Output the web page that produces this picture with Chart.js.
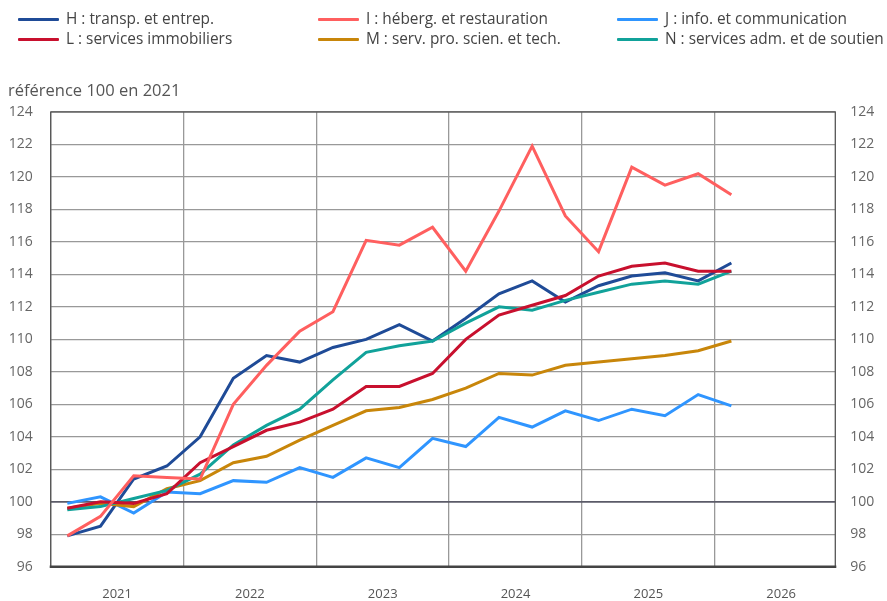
<!DOCTYPE html>
<html>
<head>
<meta charset="utf-8">
<script src="https://cdn.jsdelivr.net/npm/chart.js@4.4.1/dist/chart.umd.min.js"></script>
<style>
  html, body { margin: 0; padding: 0; background: #fff; }
  #wrap { position: relative; width: 887px; height: 601px; font-family: "Open Sans", "Noto Sans", sans-serif; }
  #c { position: absolute; left: 0; top: 0; }
  .leg { position: absolute; font-size: 15.4px; color: #444; white-space: nowrap; line-height: 20px; }
  .leg span.sw { position: absolute; top: 9px; height: 3px; width: 41px; border-radius: 1px; }
  #ytitle { position: absolute; left: 8px; top: 78px; font-size: 16.5px; color: #555; white-space: nowrap; }
</style>
</head>
<body>
<div id="wrap">
  <canvas id="c" width="887" height="601"></canvas>
  <div id="legend"></div>
  <div id="ytitle">référence 100 en 2021</div>
</div>
<script>
// Quarterly data, index 100 in 2021
const quarters = ['2021T1','2021T2','2021T3','2021T4','2022T1','2022T2','2022T3','2022T4',
  '2023T1','2023T2','2023T3','2023T4','2024T1','2024T2','2024T3','2024T4',
  '2025T1','2025T2','2025T3','2025T4','2026T1'];
const years = ['2021','2022','2023','2024','2025','2026'];
const yTicks = [96,98,100,102,104,106,108,110,112,114,116,118,120,122,124];

const seriesH = [97.9,98.5,101.4,102.2,104.0,107.6,109.0,108.6,109.5,110.0,110.9,109.9,111.3,112.8,113.6,112.3,113.3,113.9,114.1,113.6,114.7];
const seriesI = [97.9,99.1,101.6,101.5,101.4,106.0,108.4,110.5,111.7,116.1,115.8,116.9,114.2,117.9,121.9,117.6,115.4,120.6,119.5,120.2,118.9];
const seriesJ = [99.9,100.3,99.3,100.6,100.5,101.3,101.2,102.1,101.5,102.7,102.1,103.9,103.4,105.2,104.6,105.6,105.0,105.7,105.3,106.6,105.9];
const seriesL = [99.6,100.0,99.9,100.5,102.4,103.4,104.4,104.9,105.7,107.1,107.1,107.9,110.0,111.5,112.1,112.7,113.9,114.5,114.7,114.2,114.2];
const seriesM = [99.6,99.9,99.7,100.8,101.3,102.4,102.8,103.8,104.7,105.6,105.8,106.3,107.0,107.9,107.8,108.4,108.6,108.8,109.0,109.3,109.9];
const seriesN = [99.5,99.7,100.2,100.7,101.7,103.5,104.7,105.7,107.5,109.2,109.6,109.9,111.0,112.0,111.8,112.4,112.9,113.4,113.6,113.4,114.2];

const names = ['H : transp. et entrep.','I : héberg. et restauration','J : info. et communication',
  'L : services immobiliers','M : serv. pro. scien. et tech.','N : services adm. et de soutien'];
const colors = ['#1f4b97','#ff5f5f','#2f95ff','#c8102e','#c8860a','#11a29a'];
const allSeries = [seriesH, seriesI, seriesJ, seriesL, seriesM, seriesN];

// HTML legend (3 columns x 2 rows)
const legPos = [[18,9],[318,9],[617,9],[18,29],[318,29],[617,29]];
const legend = document.getElementById('legend');
names.forEach((n,i)=>{
  const d = document.createElement('div');
  d.className = 'leg';
  d.style.left = legPos[i][0] + 'px';
  d.style.top = legPos[i][1] + 'px';
  d.style.paddingLeft = '48px';
  d.innerHTML = '<span class="sw" style="left:0;background:' + colors[i] + '"></span>' + n;
  legend.appendChild(d);
});

const datasets = allSeries.map((s,i)=>({
  label: names[i],
  data: s.map((v,k)=>({x: k + 0.5, y: v})),
  borderColor: colors[i],
  backgroundColor: colors[i],
  borderWidth: 3,
  pointRadius: 0,
  tension: 0,
  fill: false,
  order: [5,0,4,1,3,2][i]
}));

const frame = {
  id: 'frame',
  afterDatasetsDraw(chart){
    const {ctx, chartArea:a} = chart;
    ctx.save();
    ctx.strokeStyle = '#555';
    ctx.lineWidth = 1.3;
    ctx.strokeRect(a.left, a.top, a.right - a.left, a.bottom - a.top);
    ctx.strokeStyle = '#444';
    ctx.lineWidth = 2.5;
    ctx.beginPath(); ctx.moveTo(a.left - 1, a.bottom); ctx.lineTo(a.right + 1, a.bottom); ctx.stroke();
    ctx.restore();
  }
};

const yTickOpts = {
  font: {family: '"Open Sans", "Noto Sans", sans-serif', size: 14},
  color: '#666'
};

new Chart(document.getElementById('c'), {
  type: 'line',
  data: { datasets },
  options: {
    responsive: false,
    animation: false,
    layout: { padding: { top: 112, left: 0, right: 0, bottom: 0 } },
    plugins: { legend: { display: false }, tooltip: { enabled: false } },
    scales: {
      x: {
        type: 'linear', min: 0, max: 23.63,
        afterBuildTicks(s){ s.ticks = [0,2,4,6,8,10,12,14,16,18,20,22].map(v=>({value:v})); },
        afterFit(s){ s.height = 34.3; },
        ticks: {
          autoSkip: false, maxRotation: 0, padding: 20,
          font: {family: '"Open Sans", "Noto Sans", sans-serif', size: 13}, color: '#555',
          callback(v){ return (v % 4 === 2) ? years[(v - 2) / 4] : ''; }
        },
        grid: {
          drawTicks: false,
          color(c){ return (c.tick && c.tick.value % 4 === 0) ? '#999' : 'rgba(0,0,0,0)'; },
          lineWidth: 1.3
        },
        border: { display: false }
      },
      y: {
        position: 'left', min: 96, max: 124,
        afterBuildTicks(s){ s.ticks = yTicks.map(v=>({value:v})); },
        afterFit(s){ s.width = 50.7; },
        ticks: Object.assign({ padding: 18 }, yTickOpts),
        grid: {
          drawTicks: false,
          color(c){ return (c.tick && c.tick.value === 100) ? '#5b5b68' : '#999'; },
          lineWidth(c){ return (c.tick && c.tick.value === 100) ? 1.8 : 1.3; }
        },
        border: { display: false }
      },
      y2: {
        position: 'right', min: 96, max: 124,
        afterBuildTicks(s){ s.ticks = yTicks.map(v=>({value:v})); },
        afterFit(s){ s.width = 51.7; },
        ticks: Object.assign({ padding: 15 }, yTickOpts),
        grid: { display: false, drawTicks: false },
        border: { display: false }
      }
    }
  },
  plugins: [frame]
});
</script>
</body>
</html>
